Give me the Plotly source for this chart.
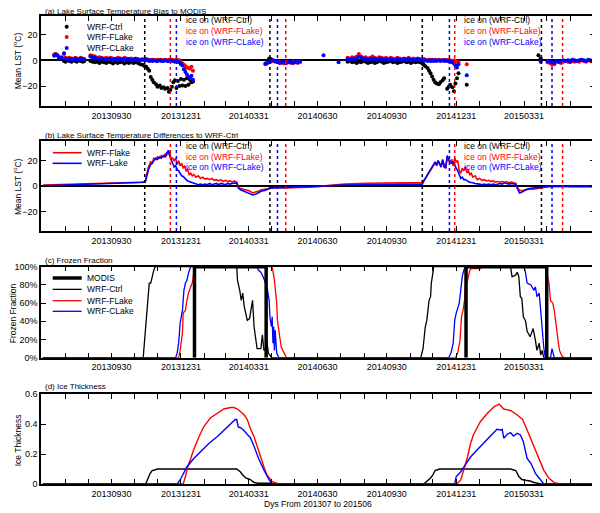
import pandas as pd
import plotly.graph_objects as go

# ---------------- x axis: days from 2013-07-01 ----------------
START = pd.Timestamp("2013-07-01")
month_ends = pd.date_range("2013-07-31", "2015-06-30", freq="ME")
x_tick_labels = ["20130930", "20131231", "20140331", "20140630",
                 "20140930", "20141231", "20150331"]

# ---------------- ice-on / ice-off dates (days) ----------------
ice_ctrl = [135, 301, 503, 661]
ice_flake = [169, 322, 546, 689]
ice_clake = [177, 311, 539, 675]

# ---------------- (a) LST bias to MODIS ----------------
N = None
a_days = ([15, 17, 19, 21, 23, 25, 28, 30, 33, 35, 38, 40, 43, 45, 48, 50, 53, 55] +
          [63, 66, 69, 72, 75, 78, 81, 84, 87, 90, 93, 96, 99, 102, 105, 108, 111, 114, 117, 120,
           123, 126, 129, 132, 135, 137, 139, 141, 143, 145, 147, 150, 152, 155, 157, 160, 162,
           165, 167, 169, 171, 173, 175, 177, 179, 181, 183, 185, 187, 189, 191, 193, 195, 197, 199] +
          [295, 297, 300, 302, 305, 308, 311, 314, 317, 320, 323, 326, 329, 332, 335, 338, 341] +
          [372, 392] +
          [404, 407, 410, 413, 416, 419, 422, 425, 428, 431, 434, 437, 440, 443, 446, 449, 452,
           455, 458, 461, 464, 467, 470, 473, 476, 479, 482, 485, 488, 491, 494, 497, 500,
           503, 505, 507, 510, 512, 514, 516, 518, 520, 522, 525, 527, 530, 532, 534, 536, 538,
           540, 543, 545, 547, 549, 551, 562] +
          [657, 660, 663, 666, 669, 672, 675, 678, 681, 684, 687, 690, 693, 696, 699, 702, 705,
           708, 711, 714, 717, 720, 723, 726, 729])
a_ctrl = ([N, N, N, N, N, N, -0.5, -1, 0, -0.5, -1, 0, -0.5, -1, 0, -0.5, -1, -0.5] +
          [-0.5, -1, -1.5, -1, -2, -1, -1.5, -2, -1, -1.5, -2.5, -1, -2, -1.5, -1, -2.5, -1.5, -2,
           -1, -2, -1.5, -2, -3, -3.5, -4.5,
           -5, -6.5, -8, -13, -15, -17,
           -18.5, -20.5, -19.5, -21.5, -21, -22, -21.5, -24.5, -23,
           -20.5, -17, -15.5, -21.5, -16, -20, -14.5, -19.5, -15, -20, -14, -19, -15, -17, -16.5] +
          [N, N, 1.5, 1, 0, N, N, N, N, N, N, N, N, N, N, N, N] +
          [N, N] +
          [-1, -0.5, -1.5, -1, -2, -1, -1.5, -0.5, -1, -2, -1.5, -1, -2, -1.5, -0.5, -1, -2, -1.5,
           -1, -0.5, -1.5, -1, -2, -1.5, -1, -0.5, -1.5, -1, -2, -1, -1.5, -1, -1.5,
           -2.5, -3.5, -4.5, -6, -8, -10, -12.5, -15, -17, -18, -18.5, -17, -15.5, -14, N, -22,
           -20.5, -19, -21, -24, -18, -14, -10, -19] +
          [4, 1.5] + [N] * 23)
a_flake = ([4.5, 5, 4, 3, 2, 2.5, 5, 2, 1.5, 2, 1.5, 1, 2, 1.5, 1, 2, 1.5, 1] +
           [4, 3.5, 3, 2, 2.5, 2, 1.5, 2, 1, 2, 1.5, 1, 2, 1.5, 1, 2, 1.5, 1, 1.5, 1, 1.5, 1, 0.5,
            1, 0.5,
            1, 0.5, 0.5, 0, 0.5, 0.5,
            0, 0.5, 0, 0.5, 0, 0.5, 0, 0.5, 0,
            0.5, 0, 0, 0.5, 0, 0, -1, -2.5, -3.5, -4.5, -5.5, -6, -6.5, -5, -8] +
           [-3, -2.5, -1.5, -1, -0.5, -1, -1.5, -1, -2, -2.5, -1, -1.5, -2, -1, -1.5, -2, -1] +
           [N, N] +
           [2, 1.5, 2.5, 2, 3, 5, 3, 2, 2.5, 1.5, 2, 3, 2, 1.5, 2.5, 2, 1.5, 2, 1, 2, 1.5, 1, 2,
            1.5, 1, 1.5, 1, 2, 1, 1.5, 1, 1.5, 1,
            0.5, 1, 0.5, 0, 0.5, 0, 0.5, 0, 0.5, 0, 0.5, 0, 0, 0.5, 0, 0, 0.5, 0, -0.5, 0, -0.5,
            -1, -1.5, -3] +
           [N, N, N, N, -1.5, -2, -3.5, -3, -1, -1.5, -2, -1, -0.5, -1, -1.5, -0.5, -1, -0.5, -1,
            0, -0.5, -1, 0, -0.5, -1])
a_clake = ([3.5, 4.5, 4, 2, 1.5, 2, 5.5, 1.5, 0.5, 1, 1, 0.5, 1.5, 1, 0.5, 1.5, 1, 0.5] +
           [3, 2, 2.5, 1.5, 1, 1.5, 1, 0.5, 1.5, 1, 0.5, 1, 0.5, 1.5, 0.5, 1, 0.5, 1, 0, 0.5, 1,
            0.5, 0, 0.5, 0,
            0.5, 0, -0.5, 0, -0.5, 0,
            -0.5, -0.5, 0, -0.5, -0.5, 0, -0.5, -0.5, 0,
            -0.5, -0.5, -1, -0.5, -1, -1.5, -3, -4, -7, -9, -11, -13, -14, -12, -15] +
           [-2.5, -2, -1, -0.5, 0, -0.5, -1, -2, -1.5, -1, -2, -1, -1.5, -2, -1, -1.5, -1] +
           [4, -1.5] +
           [1, 0.5, 1.5, 1, 1.5, 3, 2, 1, 1.5, 0.5, 1, 1.5, 1, 0.5, 1.5, 1, 0.5, 1, 0.5, 1, 0.5,
            0, 1, 0.5, 0, 1, 0.5, 1, 0, 0.5, 0, 1, 0.5,
            0, -0.5, 0, -0.5, 0, -0.5, 0, -0.5, 0, -0.5, 0, -0.5, 0, -0.5, 0, -0.5, -0.5, -1,
            -1.5, -2.5, -4, -5.5, -3, -11.5] +
           [N, -1, N, N, -0.5, -1, -1.5, -2, -0.5, -1, -1, 0, -0.5, 0, -1, 0.5, 0, -0.5, 0, 0.5,
            0, -0.5, 0.5, 0, -0.5])
assert len(a_days) == len(a_ctrl) == len(a_flake) == len(a_clake)

# ---------------- (b) LST differences to WRF-Ctrl ----------------
b_days = [0, 30, 60, 100, 130, 135, 136, 138, 140, 143,
          145, 147, 150, 152, 155, 157, 160, 162, 164, 166,
          167, 168, 170, 172, 174, 176, 178, 180, 182, 184,
          186, 188, 190, 192, 194, 196, 198, 200, 203, 206,
          209, 212, 215, 218, 221, 224, 227, 230, 233, 236,
          239, 242, 245, 248, 251, 254, 257, 259, 262, 266,
          270, 274, 278, 282, 286, 290, 294, 298, 302, 310,
          320, 330, 340, 350, 365, 380, 400, 430, 460, 490,
          503, 505, 508, 510, 513, 516, 518, 520, 522, 524,
          526, 528, 530, 532, 534, 536, 538, 540, 542, 544,
          546, 548, 550, 552, 554, 556, 558, 560, 562, 564,
          566, 568, 570, 573, 576, 579, 582, 585, 588, 591,
          594, 597, 600, 603, 606, 609, 612, 615, 618, 621,
          624, 627, 629, 632, 636, 640, 645, 650, 655, 660,
          665, 670, 680, 690, 700, 710, 720, 730]
b_flake = [0.8, 1.2, 1.8, 2.5, 3, 3.5, 4, 10, 15, 19,
           18, 22, 21, 23, 22, 24, 23, 25, 24, 28,
           25, 27, 21, 22, 20, 22, 17, 20, 16, 18,
           14, 16, 12, 13, 9, 10, 8, 9, 7, 8,
           6, 7, 5.5, 6, 5, 6, 4.5, 5, 4, 5,
           3.5, 4.5, 3.5, 4, 3, 4, 3, -1, -2, -2.5,
           -3, -4, -5.5, -5, -4, -3, -2.5, -2, -1.5, -1,
           -1.5, -1.5, -1.5, -1, -0.5, 0.5, 1.5, 2.2, 2.5, 2.5,
           2.7, 4, 7, 9, 12, 15, 17, 18, 17, 20,
           18, 16, 20, 16, 14, 22, 20, 18, 21, 16,
           22, 19, 20, 12, 10, 14, 12, 15, 11, 12,
           9, 10, 7, 8, 5, 6, 4.5, 5, 4, 4.5,
           3.5, 4, 3, 3.5, 3, 3.5, 3, 3.5, 2.5, 3,
           2.5, 2, -1, -3.5, -3.5, -3, -2.5, -2.5, -2, -2,
           -1, -0.5, -0.5, -0.5, -0.5, -0.5, -0.3, -0.5]
b_clake = [0.2, 0.8, 1.2, 2, 2.7, 3, 3.5, 8, 13, 17,
           18, 20, 22, 21, 23, 22, 24, 23, 26, 27,
           28, 24, 20, 18, 15, 16, 13, 12, 10, 8,
           7.5, 6, 5, 4, 3.5, 3, 2.5, 2, 1.5, 1,
           1.5, 1, 1.5, 1, 2, 1, 1.5, 2, 1, 2,
           1.5, 1, 2, 1.5, 2, 2, 2.5, -1.5, -3, -4,
           -5, -6, -7, -6.5, -5, -4, -3.5, -2.5, -1.5, -1.5,
           -1, -1, -0.5, -0.5, 0, 0.3, 0.8, 1, 1, 1.2,
           1.5, 4, 7, 9, 12, 15, 17, 19, 16, 20,
           17, 15, 21, 15, 14, 24, 21, 19, 18, 19,
           16, 14, 12, 8, 6, 7, 5, 5, 4, 3.5,
           3, 3, 2.5, 2, 2, 1.5, 1, 1.5, 1, 1.5,
           1, 1.5, 1, 1.5, 2, 1.5, 2.5, 2, 1.5, 2,
           2, 1.5, -2, -5.5, -4.5, -3, -2, -1.5, -1, -0.5,
           -0.5, -0.3, 0, 0, -0.3, -0.2, -0.5, -0.3]
assert len(b_days) == len(b_flake) == len(b_clake)

# ---------------- (c) Frozen fraction (%) ----------------
c_ctrl_days = [0, 133, 137, 138, 140, 141, 143, 145, 147, 149,
               257, 258, 261, 263, 265, 267, 271, 274, 276, 278,
               280, 282, 284, 289, 291, 293, 295, 297, 299, 303,
               501, 504, 506, 507, 509, 512, 514, 515, 517, 518,
               620, 622, 627, 629, 631, 633, 635, 637, 640, 642,
               646, 650, 653, 655, 658, 660, 662, 664, 730]
c_ctrl = [0, 0, 41, 52, 74, 82, 82, 91, 96, 100,
          100, 85, 74, 63, 71, 56, 41, 43, 52, 63,
          34, 19, 10, 10, 25, 8, 10, 18, 5, 0,
          0, 10, 27, 34, 41, 63, 67, 82, 93, 100,
          100, 89, 91, 94, 89, 67, 65, 45, 40, 29,
          23, 32, 19, 8, 16, 3, 8, 0, 0]
c_flake_days = [0, 180, 182, 185, 186, 189, 191, 193, 196, 198,
                200, 202, 304, 305, 307, 310, 311, 314, 316, 318,
                320, 323, 547, 550, 553, 555, 557, 559, 560, 563,
                566, 568, 580, 582, 666, 669, 671, 673, 676, 678,
                681, 683, 685, 688, 691, 730]
c_flake = [0, 0, 8, 27, 49, 52, 63, 71, 78, 82,
           93, 100, 100, 96, 85, 60, 41, 23, 12, 8,
           5, 0, 0, 5, 19, 45, 52, 63, 78, 85,
           96, 98, 98, 100, 100, 89, 82, 63, 60, 52,
           30, 19, 8, 2, 0, 0]
c_clake_days = [0, 176, 178, 180, 182, 185, 187, 189, 191, 193,
                196, 284, 286, 289, 292, 295, 297, 300, 301, 303,
                304, 305, 306, 307, 308, 310, 313, 538, 541, 544,
                546, 548, 552, 554, 556, 558, 560, 638, 640, 642,
                647, 651, 653, 655, 658, 660, 662, 664, 666, 673,
                675, 678, 730]
c_clake = [0, 0, 5, 16, 38, 52, 74, 82, 85, 93,
           100, 100, 96, 94, 89, 82, 78, 63, 45, 34,
           45, 16, 34, 8, 30, 5, 0, 0, 5, 16,
           41, 49, 60, 74, 89, 96, 100, 100, 93, 82,
           80, 74, 78, 67, 71, 52, 30, 12, 0, 0,
           10, 0, 0]
c_modis_days = [201, 201, 296, 296, None, 561, 561, 668, 668]
c_modis = [0, 100, 100, 0, None, 0, 100, 100, 0]
c_tick_vals = [0, 20, 40, 60, 80, 100]
c_tick_text = ["0%", "20%", "40%", "60%", "80%", "100%"]
assert len(c_ctrl_days) == len(c_ctrl)
assert len(c_flake_days) == len(c_flake)
assert len(c_clake_days) == len(c_clake)

# ---------------- (d) Ice thickness ----------------
d_ctrl_days = [0, 136, 138, 140, 142, 145, 148, 152, 257, 260,
               262, 265, 269, 272, 275, 280, 285, 304, 306, 505,
               510, 514, 517, 520, 523, 526, 620, 624, 627, 631,
               635, 640, 646, 651, 656, 660, 730]
d_ctrl = [0, 0, 0.02, 0.05, 0.07, 0.09, 0.095, 0.1, 0.1, 0.09,
          0.08, 0.06, 0.04, 0.035, 0.03, 0.01, 0.005, 0.005, 0, 0,
          0.02, 0.04, 0.06, 0.09, 0.095, 0.1, 0.1, 0.095, 0.09, 0.05,
          0.03, 0.025, 0.02, 0.01, 0.005, 0, 0]
d_flake_days = [0, 186, 189, 192, 196, 200, 207, 213, 222, 231,
                240, 249, 253, 258, 262, 267, 271, 275, 280, 284,
                289, 293, 297, 304, 313, 549, 554, 558, 563, 567,
                571, 580, 589, 598, 605, 611, 620, 629, 636, 642,
                651, 658, 664, 671, 678, 686, 730]
d_flake = [0, 0, 0.05, 0.115, 0.17, 0.23, 0.315, 0.38, 0.44, 0.47,
           0.5, 0.51, 0.51, 0.5, 0.48, 0.46, 0.43, 0.37, 0.315, 0.25,
           0.18, 0.115, 0.06, 0.015, 0, 0, 0.027, 0.09, 0.18, 0.27,
           0.33, 0.415, 0.47, 0.515, 0.533, 0.5, 0.49, 0.46, 0.43, 0.36,
           0.25, 0.16, 0.093, 0.038, 0.009, 0, 0]
d_clake_days = [0, 178, 182, 186, 191, 200, 209, 220, 231, 240,
                249, 255, 257, 259, 262, 266, 271, 275, 280, 286,
                293, 300, 304, 546, 548, 554, 560, 567, 580, 591,
                602, 607, 609, 611, 616, 620, 624, 629, 633, 637,
                642, 647, 653, 660, 664, 730]
d_clake = [0, 0, 0.027, 0.07, 0.115, 0.17, 0.215, 0.27, 0.315, 0.36,
           0.405, 0.43, 0.43, 0.38, 0.375, 0.36, 0.33, 0.31, 0.25, 0.17,
           0.093, 0.027, 0, 0, 0.05, 0.082, 0.127, 0.18, 0.25, 0.305,
           0.365, 0.36, 0.365, 0.305, 0.333, 0.342, 0.32, 0.338, 0.327, 0.282,
           0.171, 0.138, 0.071, 0.027, 0, 0]
assert len(d_ctrl_days) == len(d_ctrl)
assert len(d_flake_days) == len(d_flake)
assert len(d_clake_days) == len(d_clake)

# ---------------- figure ----------------
FONT = "Arial, Liberation Sans, sans-serif"
RED = "#ff0000"
BLUE = "#0000ff"
fig = go.Figure()

def sc(x, y, ax, **kw):
    xa = "x" if ax == 1 else f"x{ax}"
    ya = "y" if ax == 1 else f"y{ax}"
    fig.add_trace(go.Scatter(x=x, y=y, xaxis=xa, yaxis=ya, showlegend=False,
                             hoverinfo="skip", **kw))

# (a)
sc(a_days, a_ctrl, 1, mode="markers", marker=dict(color="black", size=4))
sc(a_days, a_flake, 1, mode="markers", marker=dict(color=RED, size=4))
sc(a_days, a_clake, 1, mode="markers", marker=dict(color=BLUE, size=4))
# (b)
sc(b_days, b_flake, 2, mode="lines", line=dict(color=RED, width=1.6))
sc(b_days, b_clake, 2, mode="lines", line=dict(color=BLUE, width=1.6))
# (c)
sc(c_ctrl_days, c_ctrl, 3, mode="lines", line=dict(color="black", width=1.3))
sc(c_flake_days, c_flake, 3, mode="lines", line=dict(color=RED, width=1.3))
sc(c_clake_days, c_clake, 3, mode="lines", line=dict(color=BLUE, width=1.3))
sc(c_modis_days, c_modis, 3, mode="lines", line=dict(color="black", width=3.5))
# (d)
sc(d_ctrl_days, d_ctrl, 4, mode="lines", line=dict(color="black", width=1.4))
sc(d_flake_days, d_flake, 4, mode="lines", line=dict(color=RED, width=1.4))
sc(d_clake_days, d_clake, 4, mode="lines", line=dict(color=BLUE, width=1.4))

month_days = [(d - START).days for d in month_ends]
month_text = [d.strftime("%Y%m%d") if d.strftime("%Y%m%d") in x_tick_labels else ""
              for d in month_ends]

domains = {1: [0.8077, 1.0], 2: [0.5406, 0.7329], 3: [0.2699, 0.4643], 4: [0.0, 0.1923]}
axis_common = dict(showline=True, linecolor="black", linewidth=1.5, mirror="ticks",
                   ticks="inside", ticklen=5, tickwidth=1, tickcolor="black",
                   showgrid=False, automargin=False,
                   tickfont=dict(size=9, color="black", family=FONT))
layout = {}
for i in range(1, 5):
    xk = "xaxis" if i == 1 else f"xaxis{i}"
    yk = "yaxis" if i == 1 else f"yaxis{i}"
    ya = "y" if i == 1 else f"y{i}"
    xa = "x" if i == 1 else f"x{i}"
    layout[xk] = dict(axis_common, domain=[0, 1], anchor=ya, range=[-2.5, 732],
                      tickmode="array", tickvals=month_days, ticktext=month_text,
                      zeroline=False)
    layout[yk] = dict(axis_common, domain=domains[i], anchor=xa)
layout["yaxis"].update(range=[-35.5, 34.5], tickmode="array", tickvals=[-20, 0, 20],
                       zeroline=True, zerolinecolor="black", zerolinewidth=2)
layout["yaxis2"].update(range=[-35.5, 35.5], tickmode="array", tickvals=[-20, 0, 20],
                        zeroline=True, zerolinecolor="black", zerolinewidth=2)
layout["yaxis3"].update(range=[0, 100], tickmode="array", tickvals=c_tick_vals,
                        ticktext=c_tick_text, zeroline=False)
layout["yaxis4"].update(range=[0, 0.6], tickmode="array", tickvals=[0, 0.2, 0.4, 0.6],
                        ticktext=["0", "0.2", "0.4", "0.6"], zeroline=False)

fig.update_layout(**layout)

shapes = []
annots = []
# dotted ice-on lines in (a) and (b)
for xr, yr in (("x", "y"), ("x2", "y2")):
    for days, col in ((ice_ctrl, "black"), (ice_flake, RED), (ice_clake, BLUE)):
        for d in days:
            shapes.append(dict(type="line", xref=xr, yref=yr + " domain", x0=d, x1=d,
                               y0=0, y1=1, line=dict(color=col, width=1.5, dash="dot")))
    yvals = (31.6, 22.8, 14.5) if xr == "x" else (31.9, 23.2, 14.8)
    for xpos in (187.5, 555.5):
        for txt, col, yv in (("ice on (WRF-Ctrl)", "black", yvals[0]),
                             ("ice on (WRF-FLake)", RED, yvals[1]),
                             ("ice on (WRF-CLake)", BLUE, yvals[2])):
            annots.append(dict(xref=xr, yref=yr, x=xpos, y=yv, text=txt, showarrow=False,
                               xanchor="left", yanchor="middle",
                               font=dict(size=8.5, color=col, family=FONT)))

# legends
def leg_text(xr, yr, y, txt):
    annots.append(dict(xref=xr + " domain", yref=yr + " domain", x=0.0794, y=y, text=txt,
                       showarrow=False, xanchor="left", yanchor="middle",
                       font=dict(size=8.5, color="black", family=FONT)))

for y, col, txt in ((0.881, "black", "WRF-Ctrl"), (0.767, RED, "WRF-FLake"),
                    (0.644, BLUE, "WRF-CLake")):
    shapes.append(dict(type="circle", xref="x domain", yref="y domain",
                       xsizemode="pixel", ysizemode="pixel", xanchor=0.0464, yanchor=y,
                       x0=-2, x1=2, y0=-2, y1=2, fillcolor=col, line=dict(width=0)))
    leg_text("x", "y", y, txt)
for y, col, txt in ((0.870, RED, "WRF-Flake"), (0.752, BLUE, "WRF-Lake")):
    shapes.append(dict(type="line", xref="x2 domain", yref="y2 domain", x0=0.0211,
                       x1=0.0734, y0=y, y1=y, line=dict(color=col, width=1.6)))
    leg_text("x2", "y2", y, txt)
for y, col, w, txt in ((0.876, "black", 3.5, "MODIS"), (0.751, "black", 1.3, "WRF-Ctrl"),
                       (0.626, RED, 1.3, "WRF-FLake"), (0.510, BLUE, 1.3, "WRF-CLake")):
    shapes.append(dict(type="line", xref="x3 domain", yref="y3 domain", x0=0.0211,
                       x1=0.0734, y0=y, y1=y, line=dict(color=col, width=w)))
    leg_text("x3", "y3", y, txt)

# panel titles
for txt, y in (("(a) Lake Surface Temperature Bias to MODIS", 1.0096),
               ("(b) Lake Surface Temperature Differences to WRF-Ctrl", 0.7457),
               ("(c) Frozen Fraction", 0.4786),
               ("(d) Ice Thickness", 0.2094)):
    annots.append(dict(xref="paper", yref="paper", x=0.0054, y=y, text=txt, showarrow=False,
                       xanchor="left", yanchor="middle", borderpad=0,
                       font=dict(size=8, color="black", family=FONT)))
# y-axis titles
for txt, x, y in (("Mean LST (<sup>o</sup>C)", -0.041, 0.904),
                  ("Mean LST (<sup>o</sup>C)", -0.041, 0.635),
                  ("Frozen Fraction", -0.0505, 0.365),
                  ("Ice Thickness", -0.041, 0.094)):
    annots.append(dict(xref="paper", yref="paper", x=x, y=y, text=txt, showarrow=False,
                       textangle=-90, xanchor="center", yanchor="middle",
                       font=dict(size=8.5, color="black", family=FONT)))
# x-axis title
annots.append(dict(xref="paper", yref="paper", x=0.5, y=-0.0427,
                   text="Dys From 201307 to 201506", showarrow=False,
                   xanchor="center", yanchor="middle",
                   font=dict(size=8.5, color="black", family=FONT)))

# the page body adds an 8px offset, so the canvas is 8px smaller on each dimension
fig.update_layout(width=592, height=505, margin=dict(l=33, r=5, t=8, b=29),
                  plot_bgcolor="white", paper_bgcolor="white", showlegend=False,
                  font=dict(family=FONT, size=9, color="black"),
                  shapes=shapes, annotations=annots)

fig.write_html("out.html")
